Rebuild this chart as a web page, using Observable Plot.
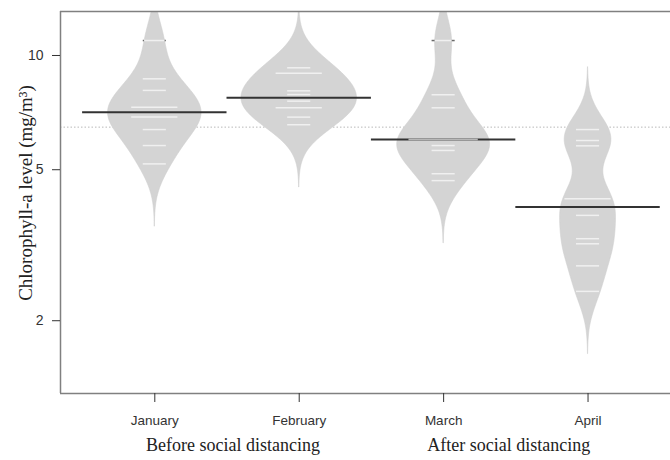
<!DOCTYPE html>
<html><head><meta charset="utf-8">
<script src="https://cdn.jsdelivr.net/npm/d3@7"></script>
<script src="https://cdn.jsdelivr.net/npm/@observablehq/plot@0.6"></script>
<style>html,body{margin:0;padding:0;background:#fff;overflow:hidden}</style>
</head><body><div id="chart"></div>
<script>
// ---- data (Chlorophyll-a, mg/m³) ----
const months = ["January", "February", "March", "April"];
const janValues = [10.95, 8.68, 8.09, 7.31, 7.31, 6.88, 6.88, 6.38, 5.79, 5.18];
const febValues = [9.28, 8.98, 8.98, 8.07, 7.89, 7.58, 7.28, 7.28, 6.88, 6.57];
const marValues = [10.95, 7.88, 7.28, 6.01, 6.01, 6.01, 5.79, 5.62, 4.88, 4.68];
const aprValues = [6.38, 5.97, 5.78, 4.19, 4.19, 3.79, 3.29, 3.19, 2.79, 2.39];
const yTicks = [2, 5, 10];
const groupLabels = ["Before social distancing", "After social distancing"];
const groupMonths = [[1, 2], [3, 4]];
const yLabel = "Chlorophyll-a level (mg/m³)";

// ---- bean plot construction (gaussian density on log scale, common bandwidth) ----
const series = [janValues, febValues, marValues, aprValues];
const bw = 0.0548;      // bandwidth in log10 units
const cut = 3;          // density extends cut*bw beyond data
const maxHalf = 0.4;    // widest bean half-width (x units)
const lineHalf = 0.08;  // half-length of one data line

function dens(logs, t) {
  let s = 0;
  for (const v of logs) { const z = (t - v) / bw; s += Math.exp(-0.5 * z * z); }
  return s / logs.length;
}
const beans = series.map((vals, i) => {
  const logs = vals.map(Math.log10);
  const lo = d3.min(logs) - cut * bw, hi = d3.max(logs) + cut * bw, n = 300;
  const pts = d3.range(n + 1).map(j => { const t = lo + (hi - lo) * j / n; return {t, d: dens(logs, t)}; });
  return {i, c: i + 1, vals, logs, pts};
});
const gmax = d3.max(beans, b => d3.max(b.pts, p => p.d));
const k = maxHalf / gmax;
const beanRows = beans.flatMap(b => b.pts.map(p => ({m: b.i, y: 10 ** p.t, x1: b.c - p.d * k, x2: b.c + p.d * k})));
const lineRows = beans.flatMap(b => d3.rollups(b.vals, v => v.length, d => d).map(([v, n]) => {
  const L = lineHalf * n, hw = dens(b.logs, Math.log10(v)) * k, w = Math.min(L, hw);
  return {y: v, x1: b.c - L, x2: b.c + L, i1: b.c - w, i2: b.c + w};
}));
// parts of data lines that stick out of the bean are drawn dark
const outsideRows = lineRows.filter(r => r.i1 > r.x1).flatMap(r => [
  {y: r.y, a: r.x1, b: r.i1}, {y: r.y, a: r.i2, b: r.x2}
]);
const medianRows = beans.map(b => ({y: 10 ** d3.median(b.logs), x1: b.c - 0.5, x2: b.c + 0.5}));
const overall = 10 ** d3.median(beans.flatMap(b => b.logs));
const groupRows = groupLabels.map((label, g) => ({label, x: d3.mean(groupMonths[g])}));

const xDomain = [0.347, 4.571];
const yDomain = [1.286, 13.06];

const chart = Plot.plot({
  width: 670, height: 460,
  marginTop: 11, marginBottom: 67, marginLeft: 60, marginRight: 0,
  style: {fontFamily: "'Liberation Sans', Arial, sans-serif", background: "#fff"},
  x: {type: "linear", domain: xDomain, axis: null},
  y: {type: "log", domain: yDomain, axis: null},
  marks: [
    Plot.ruleY([overall], {stroke: "#b8b8b8", strokeDasharray: "1.5,2", strokeWidth: 1}),
    Plot.areaX(beanRows, {x1: "x1", x2: "x2", y: "y", z: "m", fill: "#d4d4d4", stroke: "#cecece", strokeWidth: 0.6, clip: true}),
    Plot.ruleY(medianRows, {y: "y", x1: "x1", x2: "x2", stroke: "#333", strokeWidth: 2}),
    Plot.ruleY(outsideRows, {y: "y", x1: "a", x2: "b", stroke: "#6a6a6a", strokeWidth: 1.5, clip: true}),
    Plot.ruleY(lineRows, {y: "y", x1: "i1", x2: "i2", stroke: "#fff", strokeOpacity: 0.65, strokeWidth: 1.5, clip: true}),
    Plot.ruleY([yDomain[0], yDomain[1]], {stroke: "#808080", strokeWidth: 1.5}),
    Plot.ruleX([xDomain[0]], {stroke: "#808080", strokeWidth: 1.5}),
    Plot.axisY(yTicks, {anchor: "left", tickSize: 8, tickPadding: 9, fontSize: 14, color: "#333", label: null, tickFormat: d => String(d)}),
    Plot.axisX([1, 2, 3, 4], {anchor: "bottom", tickSize: 9, tickPadding: 13, fontSize: 13.5, color: "#333", label: null, tickFormat: d => months[d - 1]}),
    Plot.text([groupRows[0]], {x: "x", text: "label", frameAnchor: "bottom", dy: 57, dx: 6, fontFamily: "'Liberation Serif', serif", fontSize: 18, fill: "#222"}),
    Plot.text([groupRows[1]], {x: "x", text: "label", frameAnchor: "bottom", dy: 57, dx: -7, fontFamily: "'Liberation Serif', serif", fontSize: 18, fill: "#222"}),
    Plot.text([yLabel], {frameAnchor: "left", textAnchor: "middle", dx: -35, dy: -9.5, rotate: -90, fontFamily: "'Liberation Serif', serif", fontSize: 19, fill: "#222"})
  ]
});
document.getElementById("chart").appendChild(chart);
</script>
</body></html>
